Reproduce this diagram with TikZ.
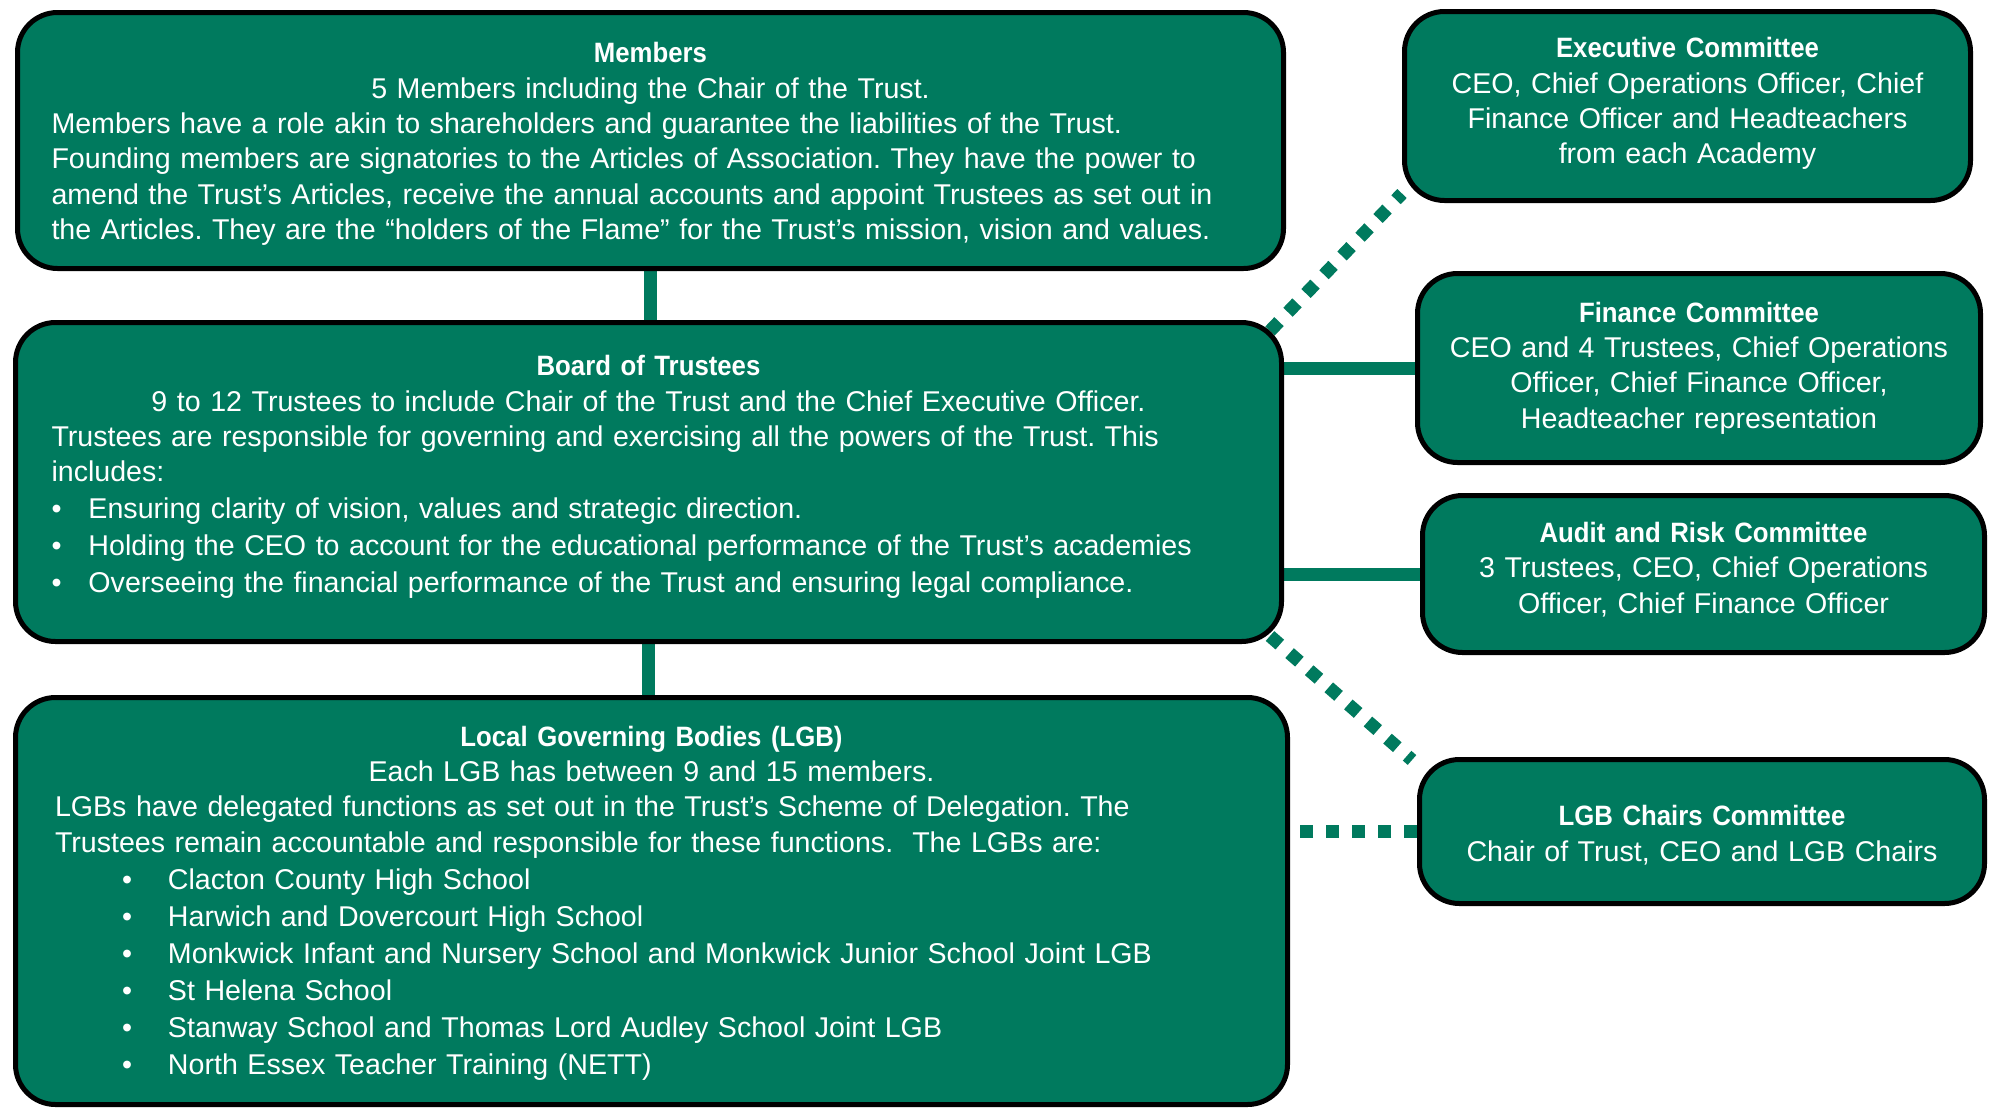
\documentclass[tikz,border=0pt]{standalone}
\usepackage{fontspec}
\setmainfont{Liberation Sans}
\newfontfamily\titlefont[FakeStretch=0.92]{Liberation Sans}
\usetikzlibrary{backgrounds}
\definecolor{trustgreen}{RGB}{0,122,94}
\setlength\parindent{0pt}
\frenchspacing
\newcommand\ttl[1]{{\titlefont\fontsize{14}{17.65}\selectfont\bfseries #1}}
\newcommand\bul[2]{\par\baselineskip=18.5pt\hspace*{#1}\makebox[#2][l]{\textbullet}}

\begin{document}
\begin{tikzpicture}[x=0.5pt, y=-0.5pt,
  box/.style={draw=black, line width=2.5pt, fill=trustgreen, rounded corners=20pt, text=white, inner sep=0pt,
    font=\fontsize{14.3}{17.65}\selectfont},
  bigbox/.style={box, text width=#1, align=left},
  smallbox/.style={box, text width=270pt, align=center},
  link/.style={draw=trustgreen, line width=6.5pt},
  dotlink/.style={link, dash pattern=on 6.5pt off 6.5pt}]

  \useasboundingbox (0,0) rectangle (1993,1109);

  \node[bigbox=599pt, minimum width=633pt, minimum height=128pt] (members) at (650.5,140.5) {%
    {\centering\ttl{Members}\\5 Members including the Chair of the Trust.\par}
    Members have a role akin to shareholders and guarantee the liabilities of the Trust.\\
    Founding members are signatories to the Articles of Association. They have the power to\\
    amend the Trust’s Articles, receive the annual accounts and appoint Trustees as set out in\\
    the Articles. They are the “holders of the Flame” for the Trust’s mission, vision and values.\par
    \vspace{-3.5pt}};

  \node[bigbox=597pt, minimum width=633pt, minimum height=159.5pt] (board) at (648.5,482) {%
    {\centering\ttl{Board of Trustees}\\9 to 12 Trustees to include Chair of the Trust and the Chief Executive Officer.\par}
    Trustees are responsible for governing and exercising all the powers of the Trust. This\\
    includes:
    \bul{0pt}{18.5pt}Ensuring clarity of vision, values and strategic direction.
    \bul{0pt}{18.5pt}Holding the CEO to account for the educational performance of the Trust’s academies
    \bul{0pt}{18.5pt}Overseeing the financial performance of the Trust and ensuring legal compliance.\par
    \vspace{4.8pt}};

  \node[bigbox=596.5pt, minimum width=636pt, minimum height=203.5pt] (lgb) at (651.5,901) {%
    {\centering\ttl{Local Governing Bodies (LGB)}\\Each LGB has between 9 and 15 members.\par}
    LGBs have delegated functions as set out in the Trust’s Scheme of Delegation. The\\
    Trustees remain accountable and responsible for these functions.\ \ The LGBs are:
    \bul{33.5pt}{23pt}Clacton County High School
    \bul{33.5pt}{23pt}Harwich and Dovercourt High School
    \bul{33.5pt}{23pt}Monkwick Infant and Nursery School and Monkwick Junior School Joint LGB
    \bul{33.5pt}{23pt}St Helena School
    \bul{33.5pt}{23pt}Stanway School and Thomas Lord Audley School Joint LGB
    \bul{33.5pt}{23pt}North Essex Teacher Training (NETT)\par
    \vspace{-2pt}};

  \node[smallbox, minimum width=283pt, minimum height=94.5pt] (exec) at (1687.5,106) {%
    \ttl{Executive Committee}\\CEO, Chief Operations Officer, Chief\\Finance Officer and Headteachers\\from each Academy\par
    \vspace{2.5pt}};
  \node[smallbox, minimum width=281.5pt, minimum height=94.5pt] (finance) at (1699,368) {%
    \ttl{Finance Committee}\\CEO and 4 Trustees, Chief Operations\\Officer, Chief Finance Officer,\\Headteacher representation};
  \node[smallbox, minimum width=281pt, minimum height=78.5pt] (audit) at (1703.5,574) {%
    \ttl{Audit and Risk Committee}\\3 Trustees, CEO, Chief Operations\\Officer, Chief Finance Officer\par
    \vspace{4.4pt}};
  \node[smallbox, minimum width=282.5pt, minimum height=72pt] (chairs) at (1702,831.5) {%
    \ttl{LGB Chairs Committee}\\Chair of Trust, CEO and LGB Chairs\par
    \vspace{-3.8pt}};

  \begin{scope}[on background layer]
    \draw[link] (members.south) -- (members.south |- board.north);
    \draw[link] (board.south) -- (board.south |- lgb.north);
    \draw[link] (finance.west) -- (finance.west -| board.east);
    \draw[link] (audit.west) -- (audit.west -| board.east);
    \draw[dotlink] (chairs.west) -- (chairs.west -| lgb.east);
    \draw[dotlink] ([xshift=-7pt,yshift=-5.5pt]board.north east) -- ([yshift=4.75pt]exec.south west);
    \draw[dotlink] ([xshift=-7pt,yshift=4pt]board.south east) -- ([xshift=-2.5pt,yshift=-1.5pt]chairs.north west);
  \end{scope}
\end{tikzpicture}
\end{document}
